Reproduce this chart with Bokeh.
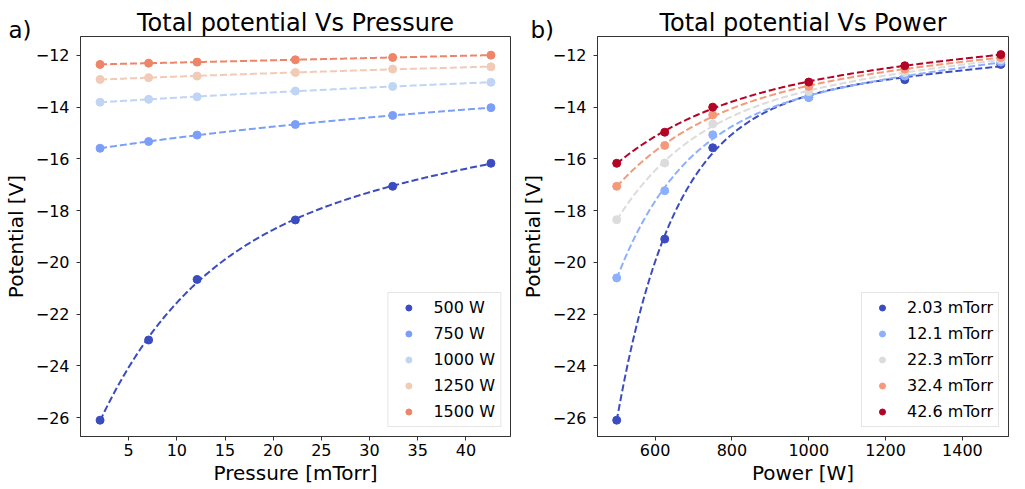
import numpy as np
from bokeh.plotting import figure
from bokeh.layouts import row
from bokeh.models import Range1d, FixedTicker, Legend, LegendItem, Title
from bokeh.embed import file_html
from bokeh.resources import INLINE

# ---------------- data: panel a) potential vs pressure ----------------
pressures = [2.03, 7.07, 12.1, 22.3, 32.4, 42.6]
left_labels = ["500 W", "750 W", "1000 W", "1250 W", "1500 W"]
left_colors = ["#3b4cc0", "#7b9ff9", "#c0d4f5", "#f2cbb7", "#ee8468"]
v_500 = [-26.10, -23.00, -20.66, -18.36, -17.06, -16.17]
v_750 = [-15.59, -15.33, -15.08, -14.67, -14.32, -14.02]
v_1000 = [-13.81, -13.70, -13.60, -13.38, -13.20, -13.04]
v_1250 = [-12.93, -12.86, -12.80, -12.66, -12.53, -12.44]
v_1500 = [-12.35, -12.30, -12.26, -12.17, -12.08, -11.99]
left_series = [v_500, v_750, v_1000, v_1250, v_1500]

# ---------------- data: panel b) potential vs power ----------------
powers = [500, 625, 750, 1000, 1250, 1500]
right_labels = ["2.03 mTorr", "12.1 mTorr", "22.3 mTorr", "32.4 mTorr", "42.6 mTorr"]
right_colors = ["#3b4cc0", "#8db0fe", "#dddcdc", "#f49a7b", "#b40426"]
p_203 = [-26.10, -19.10, -15.57, -13.62, -12.94, -12.35]
p_121 = [-20.60, -17.23, -15.07, -13.63, -12.80, -12.26]
p_223 = [-18.35, -16.16, -14.65, -13.40, -12.66, -12.17]
p_324 = [-17.06, -15.48, -14.30, -13.20, -12.53, -12.08]
p_426 = [-16.17, -14.97, -14.00, -13.03, -12.40, -11.97]
right_series = [p_203, p_121, p_223, p_324, p_426]

y_ticks = [-26, -24, -22, -20, -18, -16, -14, -12]
left_x_ticks = [5, 10, 15, 20, 25, 30, 35, 40]
right_x_ticks = [600, 800, 1000, 1200, 1400]

FONT = "DejaVu Sans"


def fit_curve(x, y):
    """Least-squares fit y = a + b*exp(-x/c) + d*x (best c on a grid)."""
    x = np.asarray(x, float)
    y = np.asarray(y, float)
    span = x.max() - x.min()
    xs = (x - x.min()) / span
    best = None
    for c in np.linspace(0.03, 3.0, 600):
        A = np.column_stack([np.ones_like(xs), np.exp(-xs / c), xs])
        coef, *_ = np.linalg.lstsq(A, y, rcond=None)
        res = np.sum((A @ coef - y) ** 2)
        if best is None or res < best[0]:
            best = (res, c, coef)
    _, c, coef = best
    xd = np.linspace(x.min(), x.max(), 300)
    t = (xd - x.min()) / span
    yd = coef[0] + coef[1] * np.exp(-t / c) + coef[2] * t
    return xd, yd


def make_fig(width, x_range, title, xlabel, xticks, mbl, mbr):
    p = figure(width=width, height=487, x_range=x_range,
               y_range=Range1d(-26.73, -11.27),
               output_backend="svg", toolbar_location=None,
               min_border_left=mbl, min_border_right=mbr,
               min_border_top=36, min_border_bottom=50)
    p.title.text = title
    p.title.align = "center"
    p.title.text_font = FONT
    p.title.text_font_size = "24px"
    p.title.text_font_style = "normal"
    p.title.text_color = "black"
    p.title.standoff = -25
    p.grid.visible = False
    p.outline_line_color = "#333333"
    p.outline_line_width = 1
    p.xaxis.ticker = FixedTicker(ticks=xticks)
    p.yaxis.ticker = FixedTicker(ticks=y_ticks)
    p.yaxis.major_label_overrides = {t: "\u2212" + str(abs(t)) for t in y_ticks}
    p.xaxis.axis_label = xlabel
    p.yaxis.axis_label = "Potential [V]"
    for ax in (p.xaxis, p.yaxis):
        ax.major_label_text_font = FONT
        ax.major_label_text_font_size = "16px"
        ax.major_label_text_color = "black"
        ax.axis_label_text_font = FONT
        ax.axis_label_text_font_size = "20px"
        ax.axis_label_text_font_style = "normal"
        ax.axis_label_text_color = "black"
        ax.minor_tick_line_color = None
        ax.major_tick_in = 0
        ax.major_tick_out = 4
        ax.major_tick_line_color = "#333333"
        ax.axis_line_color = "#333333"
    p.xaxis.major_label_standoff = 3
    p.xaxis.axis_label_standoff = 2
    p.yaxis.major_label_standoff = 7
    p.yaxis.axis_label_standoff = 5
    return p


def panel_tag(p, text, offset):
    p.add_layout(Title(text=text, align="left", offset=offset, standoff=-16,
                       vertical_align="top", text_font=FONT,
                       text_font_size="23px", text_font_style="normal",
                       text_color="black"), "above")


def populate(p, xvals, series, colors, labels):
    items = []
    for ys, c, lab in zip(series, colors, labels):
        xd, yd = fit_curve(xvals, ys)
        p.line(xd, yd, line_color=c, line_width=2, line_dash="7 3")
        r = p.scatter(xvals, ys, size=8, fill_color=c, line_color=c)
        items.append(LegendItem(label=lab, renderers=[r]))
    legend = Legend(items=items, location="bottom_right",
                    label_text_font=FONT, label_text_font_size="16px",
                    label_text_color="black",
                    glyph_width=30, glyph_height=15, label_height=15,
                    label_standoff=10, spacing=7, padding=5, margin=9,
                    border_line_color="#cccccc", border_line_width=1,
                    background_fill_alpha=0.8)
    p.add_layout(legend)


p1 = make_fig(517, Range1d(0, 44.63), "Total potential Vs Pressure",
              "Pressure [mTorr]", left_x_ticks, 73, 7)
populate(p1, pressures, left_series, left_colors, left_labels)
panel_tag(p1, "a)", -72)

p2 = make_fig(492, Range1d(450, 1520), "Total potential Vs Power",
              "Power [W]", right_x_ticks, 73, 1)
populate(p2, powers, right_series, right_colors, right_labels)
panel_tag(p2, "b)", -67)

layout = row(p1, p2)
open("out.html", "w").write(file_html(layout, INLINE))
